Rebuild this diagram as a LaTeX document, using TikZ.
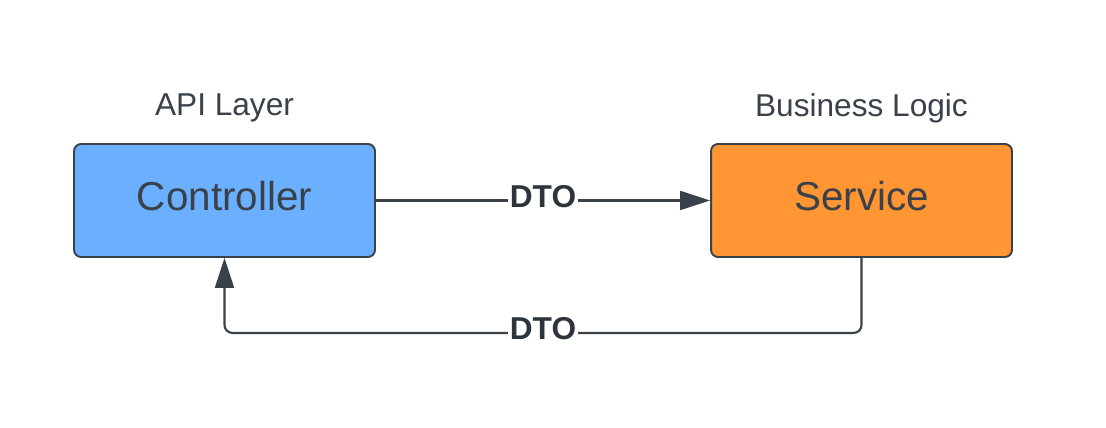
\documentclass[tikz,border=0pt]{standalone}
\usepackage{fontspec}
\setmainfont{Liberation Sans}
\usetikzlibrary{arrows.meta}
\definecolor{edgegrey}{HTML}{3A414A}
\definecolor{ctrlblue}{HTML}{6AB0FF}
\definecolor{svcorange}{HTML}{FF9533}
\tikzset{
  layerbox/.style={draw=edgegrey, line width=1.1pt, rounded corners=4pt,
    minimum width=6.02cm, minimum height=2.26cm, inner sep=0pt,
    text depth=0.2cm,
    text=edgegrey, font=\fontsize{23}{27}\selectfont},
  layertitle/.style={text=edgegrey, font=\fontsize{18}{22}\selectfont},
  flow/.style={draw=edgegrey, line width=1.2pt, rounded corners=4.5pt,
    -{Triangle[length=0.6cm, width=0.38cm]}},
  dtolabel/.style={fill=white, inner sep=1pt, text=edgegrey!80!black,
    font=\fontsize{18}{22}\selectfont\bfseries}
}
\begin{document}
\begin{tikzpicture}[x=0.02cm, y=-0.02cm]
    \useasboundingbox (0,0) rectangle (1106,428);

    \node[layerbox, fill=ctrlblue] (controller) at (224.5,200.5) {Controller};
    \node[layerbox, fill=svcorange] (service) at (861.5,200.5) {Service};

    \node[layertitle] (apititle) at (224.5,108) {API Layer};
    \node[layertitle] (bizititle) at (861.5,108) {Business Logic};

    \draw[flow] (controller.east) -- node[dtolabel, yshift=0.08cm]{DTO} (service.west);
    \draw[flow] (service.south) -- ++(0,75) -| (controller.south)
        node[pos=0.25, dtolabel, yshift=0.08cm]{DTO};
\end{tikzpicture}
\end{document}
